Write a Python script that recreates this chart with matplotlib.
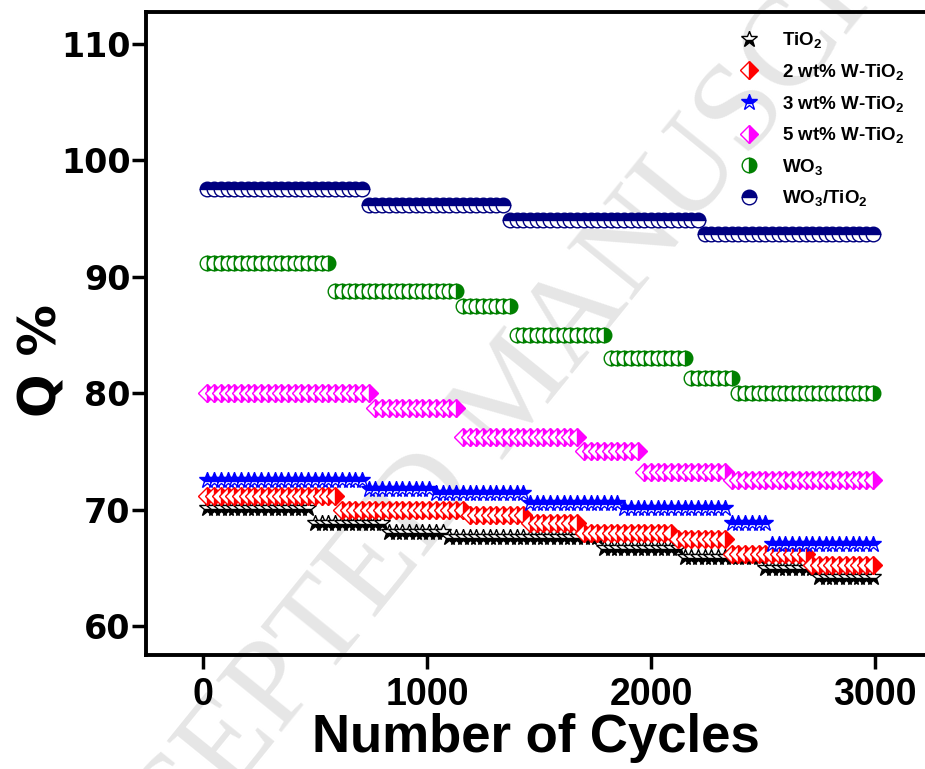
import numpy as np
import matplotlib
matplotlib.use("Agg")
import matplotlib.pyplot as plt

plt.rcParams['mathtext.default'] = 'regular'

# cycle numbers of the measured points (one point every 30 cycles)
cycles = np.arange(20, 3001, 30)

# plateaus: cycle where each plateau starts, and Q %
tio2_start = [0, 500, 810, 1100, 1790, 2150, 2505, 2750]
tio2_q = [70.1, 68.8, 68.1, 67.6, 66.7, 65.9, 65.0, 64.2]

w2_start = [0, 610, 1170, 1450, 1700, 2100, 2335, 2710]
w2_q = [71.2, 70.0, 69.5, 68.8, 68.0, 67.5, 66.2, 65.2]

w3_start = [0, 715, 1020, 1455, 1860, 2335, 2535]
w3_q = [72.5, 71.8, 71.4, 70.6, 70.1, 68.8, 67.0]

w5_start = [0, 760, 1160, 1690, 1960, 2340]
w5_q = [80.0, 78.7, 76.2, 75.0, 73.2, 72.5]

wo3_start = [0, 590, 1160, 1380, 1810, 2160, 2385]
wo3_q = [91.2, 88.8, 87.5, 85.0, 83.0, 81.3, 80.0]

wt_start = [0, 730, 1355, 2230]
wt_q = [97.5, 96.2, 94.9, 93.7]

labels = ['TiO$_2$', '2 wt% W-TiO$_2$', '3 wt% W-TiO$_2$',
          '5 wt% W-TiO$_2$', 'WO$_3$', 'WO$_3$/TiO$_2$']


def steps(starts, vals):
    i = np.searchsorted(starts, cycles, side='right') - 1
    return np.array(vals)[i]


fig = plt.figure(figsize=(9.25, 7.69), dpi=100)
ax = fig.add_axes([146/925, 114/769, 779/925, 643/769])
ax.set_facecolor('none')

# watermark of the source page, kept behind the axes
fig.text(0.56, 0.49, 'ACCEPTED MANUSCRIPT', rotation=51, ha='center', va='center',
         fontsize=92, family='Liberation Serif', color='#e6e6e6', zorder=-1)

series = [
    (tio2_start, tio2_q, '*', 'black', 'bottom', 12),
    (w2_start, w2_q, 'D', 'red', 'right', 9),
    (w3_start, w3_q, '*', 'blue', 'top', 12),
    (w5_start, w5_q, 'D', 'magenta', 'right', 9),
    (wo3_start, wo3_q, 'o', 'green', 'right', 10.5),
    (wt_start, wt_q, 'o', 'navy', 'top', 10.5),
]
for (st, q, m, c, fs, ms), lab in zip(series, labels):
    ax.plot(cycles, steps(st, q), ls='none', marker=m, ms=ms, color=c,
            fillstyle=fs, markerfacecoloralt='white', markeredgecolor=c,
            markeredgewidth=1.0, label=lab, zorder=2)

ax.set_xlim(-254, 3223)
ax.set_ylim(57.5, 112.75)
ax.set_xticks([0, 1000, 2000, 3000])
ax.set_yticks([60, 70, 80, 90, 100, 110])

for s in ['left', 'bottom', 'top']:
    ax.spines[s].set_linewidth(2.8)
ax.spines['right'].set_visible(False)
ax.tick_params(direction='out', length=10, width=2.5)
ax.tick_params(axis='y', pad=1)
ax.tick_params(axis='x', pad=6)

for t in ax.get_xticklabels():
    t.set_family('Liberation Sans')
    t.set_fontweight('bold')
    t.set_fontsize(27)
for t in ax.get_yticklabels():
    t.set_family('DejaVu Sans')
    t.set_fontweight('bold')
    t.set_fontsize(24)

ax.set_xlabel('Number of Cycles', family='Liberation Sans',
              fontweight='bold', fontsize=38, labelpad=0)
ax.set_ylabel('Q %', family='DejaVu Sans', fontweight='bold', fontsize=37)
ax.yaxis.set_label_coords(-0.101, 0.458)

leg = ax.legend(loc='upper left', bbox_to_anchor=(730/925, 1 - 21/769),
                bbox_transform=fig.transFigure, frameon=False, numpoints=1,
                handlelength=1.0, handletextpad=1.3, labelspacing=0.62,
                borderpad=0, prop={'family': 'Liberation Sans', 'weight': 'bold', 'size': 13.5})

fig.savefig('out.png', dpi=100)
